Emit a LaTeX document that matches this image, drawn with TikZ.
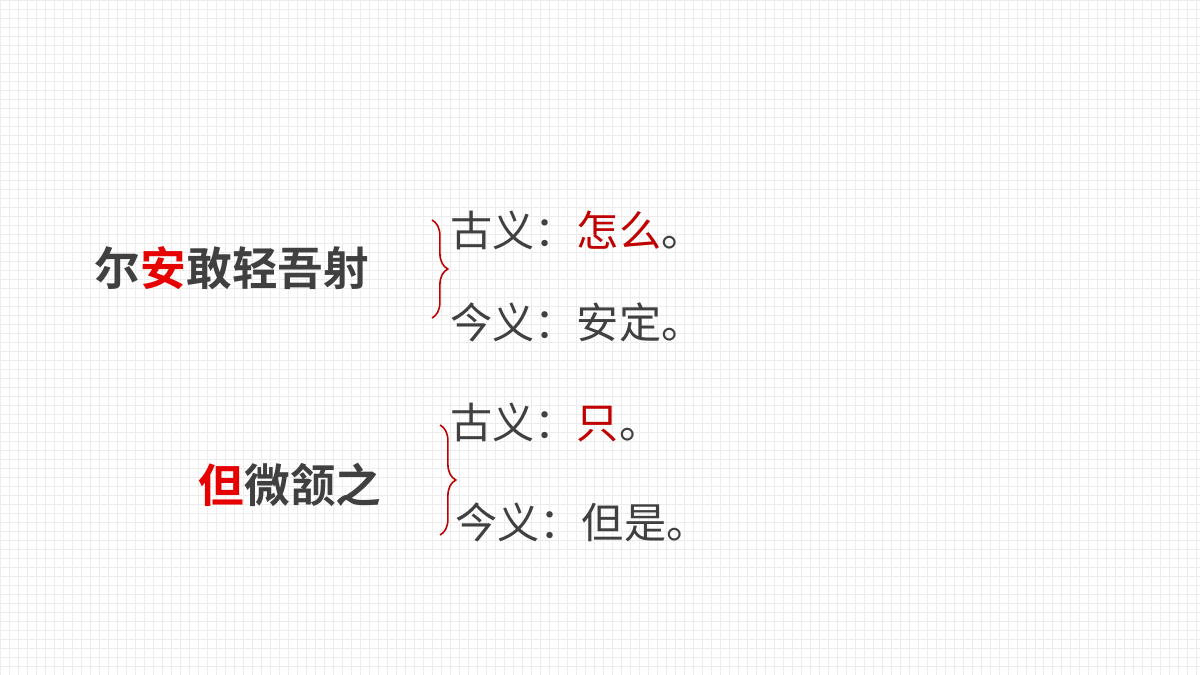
\documentclass[tikz,border=0pt]{standalone}
\usepackage{fontspec}
\usetikzlibrary{positioning,decorations.pathreplacing}
\newfontfamily\cjk{Noto Sans CJK SC}
\newfontfamily\cjkbold{Noto Sans CJK SC Bold}
\definecolor{wyGray}{RGB}{64,64,64}
\definecolor{wyRed}{RGB}{192,0,0}
\definecolor{wyBright}{RGB}{230,0,0}
\definecolor{wyGrid}{RGB}{236,236,236}
\tikzset{
  phrase/.style={font=\cjkbold\fontsize{26}{30}\selectfont, text=wyGray, inner sep=0pt},
  meaning/.style={font=\cjk\fontsize{24}{28}\selectfont, text=wyGray, anchor=west, inner sep=0pt},
  bracket/.style={draw=wyRed, line width=0.9pt, decorate, decoration={brace, amplitude=9pt, mirror}}
}
\begin{document}
\begin{tikzpicture}[x=0.02cm, y=-0.02cm]
  \useasboundingbox (0,0) rectangle (1200,675);
  % background grid
  \fill[white] (0,0) rectangle (1200,675);
  \draw[wyGrid, line width=0.3pt, step=0.18cm] (0,0) grid (1200,675);

  % first phrase
  \node[phrase] (p1) at (232,268) {尔\textcolor{wyBright}{安}敢轻吾射};
  \coordinate (b1top) at (432,220);
  \coordinate (b1bot) at (432,318);
  \draw[bracket] (b1bot) -- (b1top);
  \node[meaning] (old1) at (450,230) {古义：\textcolor{wyRed}{怎么}。};
  \node[meaning] (new1) at (450,322) {今义：安定。};

  % second phrase
  \node[phrase] (p2) at (290,485) {\textcolor{wyBright}{但}微颔之};
  \coordinate (b2top) at (440,425);
  \coordinate (b2bot) at (440,535);
  \draw[bracket] (b2bot) -- (b2top);
  \node[meaning] (old2) at (450,422) {古义：\textcolor{wyRed}{只}。};
  \node[meaning] (new2) at (455,522) {今义：但是。};
\end{tikzpicture}
\end{document}
